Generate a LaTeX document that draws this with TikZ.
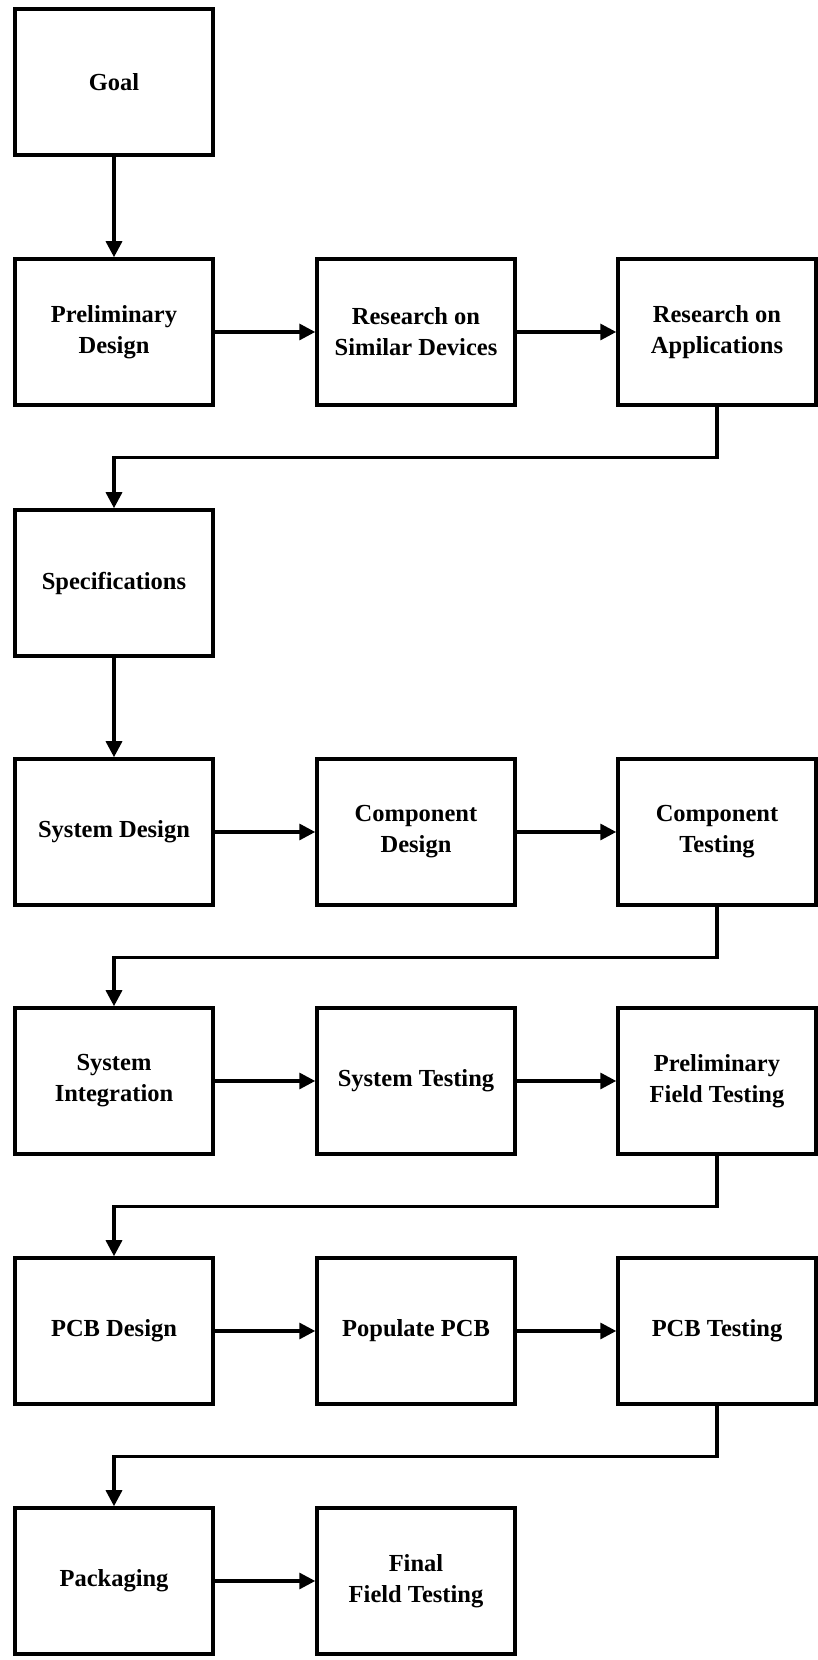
\documentclass[tikz,border=0pt]{standalone}
\usepackage{fontspec}
\setmainfont{Liberation Serif}
\usetikzlibrary{arrows.meta}
\begin{document}
\begin{tikzpicture}[x=1pt,y=1pt,
  stepbox/.style={draw=black, line width=3.5pt, minimum width=198pt, minimum height=146pt,
    inner sep=0pt, align=center, font=\fontsize{24.5}{31}\selectfont\bfseries},
  conn/.style={line width=3.3pt, -{Triangle[length=16pt,width=16pt]}}]
\useasboundingbox (0,0) rectangle (817,1660);
% columns: 114, 416, 717 ; row centres (from top): 82,332,583,832,1081,1331,1581
\node[stepbox] (goal) at (114,1660-82) {Goal};
\node[stepbox] (pre) at (114,1660-332) {Preliminary\\Design};
\node[stepbox] (rsd) at (416,1660-332) {Research on\\Similar Devices};
\node[stepbox] (rap) at (717,1660-332) {Research on\\Applications};
\node[stepbox] (spec) at (114,1660-583) {Specifications};
\node[stepbox] (sysd) at (114,1660-832) {System Design};
\node[stepbox] (cd) at (416,1660-832) {Component\\Design};
\node[stepbox] (ct) at (717,1660-832) {Component\\Testing};
\node[stepbox] (si) at (114,1660-1081) {System\\Integration};
\node[stepbox] (st) at (416,1660-1081) {System Testing};
\node[stepbox] (pft) at (717,1660-1081) {Preliminary\\Field Testing};
\node[stepbox] (pcbd) at (114,1660-1331) {PCB Design};
\node[stepbox] (pop) at (416,1660-1331) {Populate PCB};
\node[stepbox] (pcbt) at (717,1660-1331) {PCB Testing};
\node[stepbox] (pack) at (114,1660-1581) {Packaging};
\node[stepbox] (fft) at (416,1660-1581) {Final\\Field Testing};
% connectors
\draw[conn] (goal) -- (pre);
\draw[conn] (pre) -- (rsd);
\draw[conn] (rsd) -- (rap);
\draw[conn] (rap.south) -- ++(0,-51) -| (spec.north);
\draw[conn] (spec) -- (sysd);
\draw[conn] (sysd) -- (cd);
\draw[conn] (cd) -- (ct);
\draw[conn] (ct.south) -- ++(0,-51) -| (si.north);
\draw[conn] (si) -- (st);
\draw[conn] (st) -- (pft);
\draw[conn] (pft.south) -- ++(0,-51) -| (pcbd.north);
\draw[conn] (pcbd) -- (pop);
\draw[conn] (pop) -- (pcbt);
\draw[conn] (pcbt.south) -- ++(0,-51) -| (pack.north);
\draw[conn] (pack) -- (fft);
\end{tikzpicture}
\end{document}
